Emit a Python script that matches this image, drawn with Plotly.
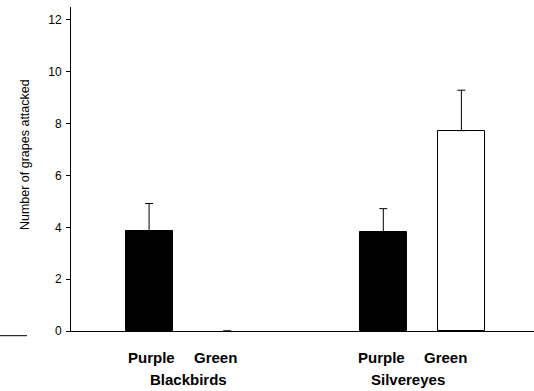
import plotly.graph_objects as go

groups = ["Blackbirds", "Silvereyes"]
colours = ["Purple", "Green"]
bar_x = [1, 2, 4, 5]
bar_values = [3.85, 0.0, 3.83, 7.73]
bar_err = [1.07, 0.0, 0.89, 1.56]
bar_fill = ["black", "white", "black", "white"]
y_ticks = [0, 2, 4, 6, 8, 10, 12]

FONT = "Liberation Sans, Arial, sans-serif"

fig = go.Figure()
fig.add_trace(go.Bar(
    x=bar_x, y=bar_values, width=0.6,
    marker=dict(color=bar_fill,
                line=dict(color="black",
                          width=[1 if v > 0 else 0 for v in bar_values])),
    error_y=dict(type="data", symmetric=False, array=bar_err,
                 arrayminus=[0] * len(bar_err), color="black",
                 thickness=1, width=4, visible=True),
    showlegend=False, hoverinfo="skip",
))

fig.update_layout(
    width=534, height=391,
    margin=dict(l=71, r=0, t=7, b=60, autoexpand=False),
    paper_bgcolor="white", plot_bgcolor="white",
    font=dict(family=FONT, color="black"),
    xaxis=dict(range=[0, 5.93], showticklabels=False, ticks="",
               showgrid=False, zeroline=False, showline=True,
               linecolor="black", linewidth=1, fixedrange=True,
               automargin=False),
    yaxis=dict(range=[0, 12.5], tickvals=y_ticks, ticks="outside",
               ticklen=4, tickwidth=1, tickcolor="black",
               tickfont=dict(size=12, family=FONT, color="black"),
               ticklabelstandoff=2,
               showgrid=False, zeroline=False,
               showline=True, linecolor="black", linewidth=1,
               automargin=False, fixedrange=True),
    bargap=0,
)

fig.add_annotation(x=-0.0994, y=0.546, xref="paper", yref="paper",
                   text="Number of grapes attacked", textangle=-90,
                   showarrow=False, xanchor="center", yanchor="middle",
                   font=dict(size=12.5, family=FONT, color="black"))

label_pos = [[1.03, 1.846], [3.98, 4.795]]
group_pos = [1.506, 4.32]
for gi, g in enumerate(groups):
    for ci, c in enumerate(colours):
        fig.add_annotation(x=label_pos[gi][ci], y=0, xref="x", yref="paper",
                           text="<b>%s</b>" % c, showarrow=False,
                           yanchor="middle", yshift=-26,
                           font=dict(size=15, family=FONT, color="black"))
    fig.add_annotation(x=group_pos[gi], y=0, xref="x", yref="paper",
                       text="<b>%s</b>" % g, showarrow=False,
                       yanchor="middle", yshift=-48,
                       font=dict(size=15, family=FONT, color="black"))

fig.add_shape(type="line", xref="paper", yref="paper",
              x0=-71 / 463, x1=-44 / 463, y0=-0.0145, y1=-0.0145,
              line=dict(color="black", width=1))

fig.write_html(
    "out.html",
    config={"displayModeBar": False},
    post_script="document.body.style.margin='0';"
                "document.body.style.overflow='hidden';",
)
